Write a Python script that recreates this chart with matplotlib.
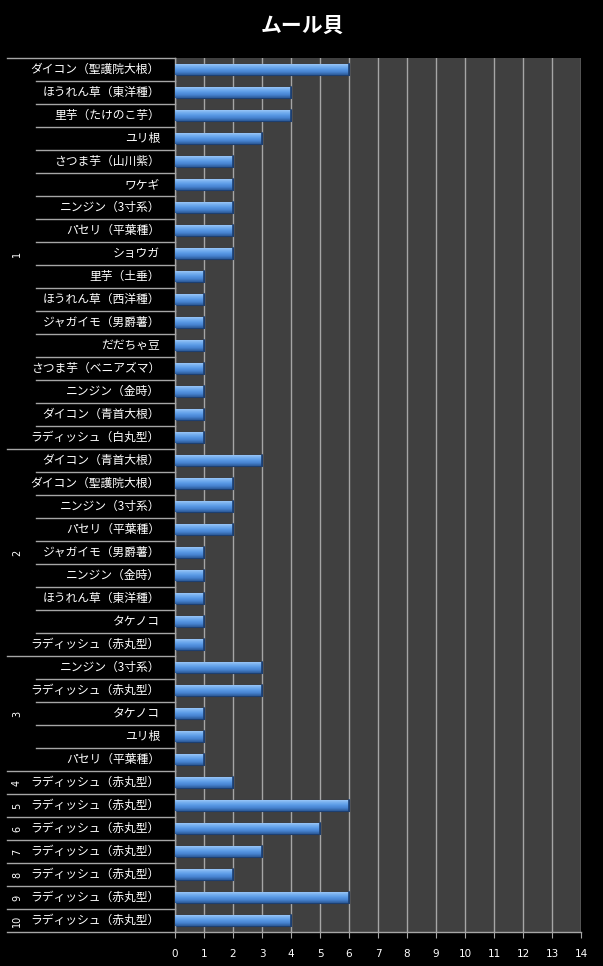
import numpy as np
import matplotlib
matplotlib.use("Agg")
import matplotlib.pyplot as plt
import matplotlib.colors as mcolors

plt.rcParams['font.family'] = ['Noto Sans CJK JP', 'DejaVu Sans']

title = "ムール貝"

group_names = ["1", "2", "3", "4", "5", "6", "7", "8", "9", "10"]

items_1 = ["ダイコン（聖護院大根）", "ほうれん草（東洋種）", "里芋（たけのこ芋）", "ユリ根",
           "さつま芋（山川紫）", "ワケギ", "ニンジン（3寸系）", "パセリ（平葉種）", "ショウガ",
           "里芋（土垂）", "ほうれん草（西洋種）", "ジャガイモ（男爵薯）", "だだちゃ豆",
           "さつま芋（ベニアズマ）", "ニンジン（金時）", "ダイコン（青首大根）", "ラディッシュ（白丸型）"]
values_1 = [6, 4, 4, 3, 2, 2, 2, 2, 2, 1, 1, 1, 1, 1, 1, 1, 1]

items_2 = ["ダイコン（青首大根）", "ダイコン（聖護院大根）", "ニンジン（3寸系）", "パセリ（平葉種）",
           "ジャガイモ（男爵薯）", "ニンジン（金時）", "ほうれん草（東洋種）", "タケノコ",
           "ラディッシュ（赤丸型）"]
values_2 = [3, 2, 2, 2, 1, 1, 1, 1, 1]

items_3 = ["ニンジン（3寸系）", "ラディッシュ（赤丸型）", "タケノコ", "ユリ根", "パセリ（平葉種）"]
values_3 = [3, 3, 1, 1, 1]

items_rest = ["ラディッシュ（赤丸型）"]
values_rest = [2, 6, 5, 3, 2, 6, 4]   # groups 4..10

groups = [(items_1, values_1), (items_2, values_2), (items_3, values_3)]
groups += [(items_rest, [v]) for v in values_rest]

labels, values, group_sizes = [], [], []
for items, vals in groups:
    labels += items
    values += vals
    group_sizes.append(len(items))

n = len(labels)
ypos = np.arange(n)

fig = plt.figure(figsize=(6.03, 9.66), dpi=100, facecolor="black")
ax = fig.add_axes([175 / 603, 1 - 932 / 966, 406 / 603, 874 / 966])
ax.set_facecolor("#404040")

ax.set_xlim(0, 14)
ax.set_ylim(n - 0.5, -0.5)
ax.set_xticks(range(0, 15))
ax.grid(axis="x", color="#a6a6a6", linewidth=1)
ax.set_axisbelow(True)

bars = ax.barh(ypos, values, height=0.48, color="#4f86cf",
               edgecolor="#1d3f70", linewidth=0.8, zorder=2)

# bevel-like vertical gradient inside each bar
grad = np.linspace(0, 1, 64).reshape(-1, 1)
cmap = mcolors.LinearSegmentedColormap.from_list(
    "bevel", ["#a9d0fa", "#7ab2f0", "#5a9ae6", "#4682cf", "#2c5a98"])
for b in bars:
    x0, y0 = b.get_x(), b.get_y()
    w, h = b.get_width(), b.get_height()
    im = ax.imshow(grad, cmap=cmap, aspect="auto",
                   extent=(x0, x0 + w, y0 + h, y0), zorder=3)
    im.set_clip_path(b)
    ax.plot([x0 + w, x0 + w], [y0, y0 + h], color="#1d3f70", lw=1.2, zorder=4)
ax.set_xlim(0, 14)
ax.set_ylim(n - 0.5, -0.5)

for s in ["top", "right"]:
    ax.spines[s].set_visible(False)
for s in ["left", "bottom"]:
    ax.spines[s].set_color("#a6a6a6")
    ax.spines[s].set_linewidth(1)

ax.tick_params(axis="x", colors="#a6a6a6", labelcolor="white", length=4,
               labelsize=7.5, pad=8)
for t in ax.get_xticklabels():
    t.set_family("DejaVu Sans")
ax.set_yticks([])

# category labels and separators
tr = ax.get_yaxis_transform()
item_x = (36 - 175) / 406
group_x = (7 - 175) / 406
for i, lab in enumerate(labels):
    ax.text(-15 / 406, i, lab, transform=tr, ha="right", va="center",
            color="white", fontsize=8.5, clip_on=False)

start = 0
bounds = [-0.5]
for gname, size in zip(group_names, group_sizes):
    for k in range(1, size):
        yb = start + k - 0.5
        ax.plot([item_x, 0], [yb, yb], transform=tr, color="#a6a6a6",
                lw=1, clip_on=False)
    mid = start + (size - 1) / 2
    ax.text(group_x + 10 / 406, mid, gname, transform=tr, ha="center",
            va="center", rotation=90, color="white", fontsize=7,
            family="DejaVu Sans", clip_on=False)
    start += size
    bounds.append(start - 0.5)
for yb in bounds:
    ax.plot([group_x, 0], [yb, yb], transform=tr, color="#a6a6a6",
            lw=1, clip_on=False)

fig.text(302 / 603, 1 - 25 / 966, title, ha="center", va="center",
         color="white", fontsize=15, fontweight="bold")

fig.savefig("out.png", dpi=100, facecolor="black")
